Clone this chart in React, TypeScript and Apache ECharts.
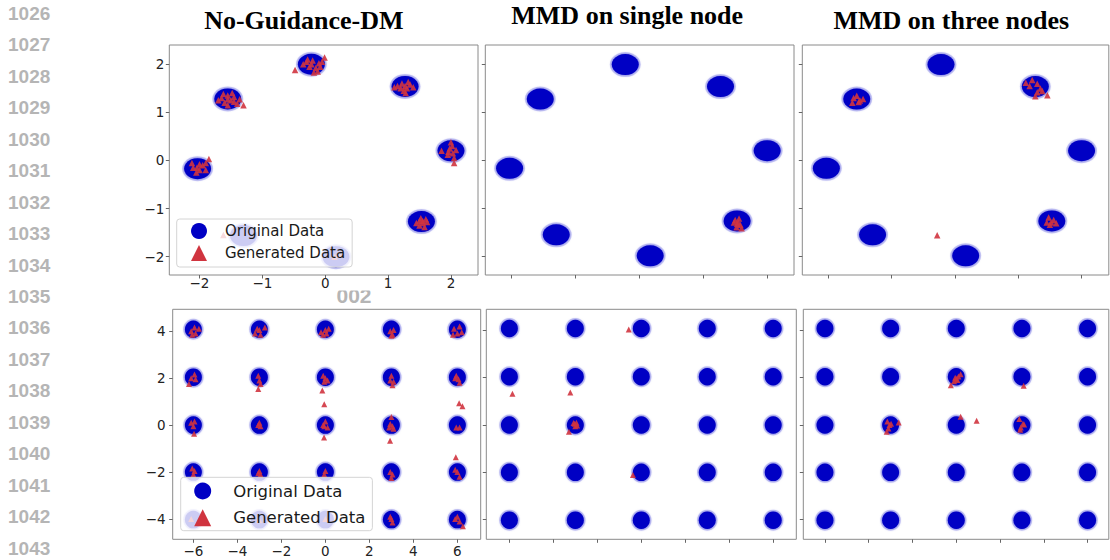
import React, { useEffect, useRef } from "react";
import * as echarts from "echarts";

// ---------- data ----------
const lineNumbers = ["1026","1027","1028","1029","1030","1031","1032","1033","1034","1035","1036","1037","1038","1039","1040","1041","1042","1043"];
const pageMark = "002";
const titles = ["No-Guidance-DM", "MMD on single node", "MMD on three nodes"];
const legendNames = ["Original Data", "Generated Data"];

const ringTicks = [-2, -1, 0, 1, 2];
const gridXTicks = [-6, -4, -2, 0, 2, 4, 6];
const gridYTicks = [-4, -2, 0, 2, 4];

// centres of the 8 gaussian modes (ring)
const ringCenters = [
  [-0.22, 2.0], [1.27, 1.54], [2.0, 0.2], [1.53, -1.27],
  [0.17, -2.0], [-1.3, -1.56], [-2.03, -0.17], [-1.55, 1.28],
];

// centres of the 25 gaussian modes (grid)
const gridCenters = [
  [-6, 4.08], [-3, 4.08], [0, 4.08], [3, 4.08], [6, 4.08],
  [-6, 2.04], [-3, 2.04], [0, 2.04], [3, 2.04], [6, 2.04],
  [-6, 0], [-3, 0], [0, 0], [3, 0], [6, 0],
  [-6, -2.0], [-3, -2.0], [0, -2.0], [3, -2.0], [6, -2.0],
  [-6, -4.02], [-3, -4.02], [0, -4.02], [3, -4.02], [6, -4.02],
];

// generated samples, ring, no guidance
const genRingNoGuidance = [
  [-0.3, 2.05], [-0.2, 2.08], [-0.1, 2.02], [-0.25, 1.95], [-0.15, 1.92], [-0.05, 2.05], [-0.35, 2.0], [-0.12, 1.85], [-0.01, 2.14], [-0.48, 1.88], [-0.18, 1.83], [-0.28, 2.1], [-0.22, 2.0], [-0.08, 1.95],
  [1.15, 1.55], [1.22, 1.6], [1.3, 1.5], [1.35, 1.58], [1.25, 1.45], [1.4, 1.52], [1.28, 1.4], [1.1, 1.52], [1.32, 1.63], [1.27, 1.55], [1.2, 1.5],
  [-1.65, 1.3], [-1.55, 1.35], [-1.5, 1.25], [-1.6, 1.2], [-1.45, 1.32], [-1.4, 1.18], [-1.3, 1.15], [-1.55, 1.15], [-1.7, 1.25], [-1.48, 1.4], [-1.62, 1.38], [-1.36, 1.27], [-1.55, 1.27], [-1.45, 1.22],
  [2.0, 0.38], [1.98, 0.25], [2.03, 0.15], [2.05, 0.05], [1.95, 0.12], [2.08, 0.22], [1.85, 0.2], [2.02, 0.3], [2.05, -0.05], [1.96, 0.18],
  [-2.1, -0.15], [-2.0, -0.2], [-1.95, -0.1], [-2.05, -0.25], [-1.9, -0.05], [-1.85, 0.03], [-1.9, -0.2], [-2.0, -0.08], [-2.12, -0.05], [-2.04, -0.15],
  [1.5, -1.25], [1.55, -1.3], [1.6, -1.22], [1.45, -1.3], [1.58, -1.38], [1.52, -1.2], [1.62, -1.28], [1.5, -1.35], [1.55, -1.26],
  [-1.62, -1.55], [0.15, -2.0], [0.22, -1.95],
];

// generated samples, ring, MMD on single node
const genRingSingle = [
  [1.5, -1.25], [1.55, -1.3], [1.58, -1.35], [1.52, -1.4], [1.6, -1.42], [1.48, -1.3], [1.56, -1.22], [1.53, -1.33],
];

// generated samples, ring, MMD on three nodes
const genRingThree = [
  [-1.6, 1.3], [-1.55, 1.35], [-1.5, 1.25], [-1.45, 1.28], [-1.62, 1.2], [-1.52, 1.22],
  [1.12, 1.62], [1.18, 1.55], [1.22, 1.68], [1.3, 1.6], [1.35, 1.5], [1.3, 1.42], [1.38, 1.45], [1.27, 1.34], [1.46, 1.36],
  [1.48, -1.2], [1.52, -1.3], [1.56, -1.25], [1.5, -1.35], [1.6, -1.32], [1.45, -1.3],
  [-0.28, -1.57],
];

// generated samples, grid, no guidance
const genGridNoGuidance = [
  [-6.1, 4.0], [-5.95, 4.15], [-5.75, 4.1], [-6.05, 3.85], [-5.9, 3.9],
  [-3.2, 3.9], [-3.0, 4.05], [-2.75, 4.15], [-2.95, 3.85], [-3.1, 4.1],
  [-0.2, 3.95], [0.0, 4.05], [0.15, 4.1], [-0.1, 3.85], [0.05, 3.9],
  [2.95, 4.0], [3.05, 3.85], [3.1, 4.05], [3.0, 3.8],
  [5.85, 4.1], [6.1, 4.2], [6.2, 3.95], [6.0, 3.9], [5.8, 3.85],
  [-6.1, 2.0], [-5.95, 2.15], [-6.2, 1.75], [-5.9, 1.95],
  [-3.05, 2.1], [-3.0, 1.9], [-2.95, 1.75], [-3.05, 1.54],
  [-0.1, 2.1], [0.0, 2.0], [0.1, 1.9], [-0.05, 1.85], [-0.14, 1.47], [-0.05, 0.89],
  [3.0, 2.1], [2.95, 1.9], [3.1, 1.85], [3.05, 1.7],
  [5.95, 2.1], [6.05, 1.95], [6.1, 1.8], [5.9, 2.0], [6.08, 0.93], [6.23, 0.8],
  [-6.1, 0.1], [-6.0, -0.05], [-5.95, 0.15], [-5.97, -0.37],
  [-3.0, 0.1], [-2.95, -0.05], [-3.05, 0.0],
  [0.0, 0.15], [-0.05, -0.05], [0.1, -0.1], [-0.1, 0.0], [-0.06, -0.53],
  [3.0, 0.35], [2.95, 0.05], [3.05, -0.05], [3.1, -0.15], [2.9, -0.1], [2.94, -0.66],
  [5.95, -0.1], [6.1, -0.1],
  [-6.05, -1.85], [-5.95, -1.95], [-6.0, -2.1],
  [-3.0, -1.95], [-3.05, -2.05], [-2.95, -2.1],
  [0.0, -1.95], [-0.05, -2.1],
  [2.95, -2.0], [3.05, -2.1], [3.0, -2.25],
  [6.0, -2.0], [6.1, -2.2], [5.9, -1.9], [5.93, -1.37],
  [-6.1, -4.0], [-3.0, -4.05], [0.0, -4.0],
  [3.0, -4.0], [3.05, -4.15], [2.95, -3.9],
  [5.9, -4.0], [6.1, -4.1], [6.25, -4.3], [6.0, -3.9],
];

// generated samples, grid, MMD on single node
const genGridSingle = [
  [-0.57, 4.04], [-5.86, 1.32], [-3.23, 1.37],
  [-3.03, 0.05], [-2.95, 0.1], [-3.0, -0.05], [-3.08, 0.08], [-2.92, -0.02], [-3.29, -0.28],
  [-0.38, -2.11],
];

// generated samples, grid, MMD on three nodes
const genGridThree = [
  [-0.25, 1.68], [-0.1, 1.85], [0.0, 1.95], [0.1, 2.05], [0.2, 2.15], [0.05, 1.9], [-0.05, 2.0],
  [3.08, 1.66],
  [-3.15, 0.15], [-3.05, 0.0], [-3.1, -0.15], [-3.18, -0.28], [-2.98, 0.05], [-2.63, 0.11],
  [0.2, 0.35], [0.93, 0.18],
  [2.88, 0.25], [3.05, 0.05], [2.95, -0.1], [3.1, 0.02], [2.92, -0.2],
];

// ---------- styling / layout ----------
const BLUE = "#0000C4";
const HALO = "rgba(50,50,215,0.22)";
const RED = "#D0343F";
const FRAME = "#8a8a8a";

type Panel = {
  left: number; top: number; width: number; height: number;
  xMin: number; xMax: number; yMin: number; yMax: number;
  xTicks: number[]; yTicks: number[]; labels: boolean;
  centers: number[][]; gen: number[][];
  core: number[]; halo: number[]; tri: number;
  xMargin: number; yMargin: number;
};

const ring = { xTicks: ringTicks, yTicks: ringTicks, centers: ringCenters, core: [27, 21], halo: [31, 25], tri: 6.5 };
const grid = { xTicks: gridXTicks, yTicks: gridYTicks, centers: gridCenters, core: [17, 17.5], halo: [20.5, 21], tri: 6 };

const panels: Panel[] = [
  { ...ring, left: 169.3, top: 45, width: 308.7, height: 230, xMin: -2.48, xMax: 2.43, yMin: -2.38, yMax: 2.4, labels: true, gen: genRingNoGuidance, xMargin: 1, yMargin: 5 },
  { ...ring, left: 485.3, top: 45, width: 308.7, height: 230, xMin: -2.41, xMax: 2.42, yMin: -2.4, yMax: 2.41, labels: false, gen: genRingSingle, xMargin: 1, yMargin: 5 },
  { ...ring, left: 802.3, top: 45, width: 306.5, height: 230, xMin: -2.41, xMax: 2.43, yMin: -2.4, yMax: 2.41, labels: false, gen: genRingThree, xMargin: 1, yMargin: 5 },
  { ...grid, left: 172.7, top: 309.3, width: 308, height: 230, xMin: -6.94, xMax: 7.06, yMin: -4.86, yMax: 4.93, labels: true, gen: genGridNoGuidance, xMargin: 5, yMargin: 7 },
  { ...grid, left: 486.3, top: 309.3, width: 310, height: 230, xMin: -7.05, xMax: 7.05, yMin: -4.83, yMax: 4.89, labels: false, gen: genGridSingle, xMargin: 5, yMargin: 7 },
  { ...grid, left: 803.3, top: 309.3, width: 305.5, height: 230, xMin: -6.99, xMax: 6.97, yMin: -4.83, yMax: 4.89, labels: false, gen: genGridThree, xMargin: 5, yMargin: 7 },
];

const fmt = (v: number) => (v < 0 ? "\u2212" + Math.abs(v) : String(v));

function buildOption() {
  const grids = panels.map((p) => ({
    left: p.left, top: p.top, width: p.width, height: p.height,
    show: true, borderColor: FRAME, borderWidth: 1, backgroundColor: "transparent",
  }));

  const axisCommon = (ticks: number[], labels: boolean, margin: number) => ({
    type: "value" as const,
    axisLine: { show: false, onZero: false },
    splitLine: { show: false },
    axisTick: { show: true, inside: false, length: 3.5, lineStyle: { color: "#666", width: 1 }, customValues: ticks },
    axisLabel: {
      show: labels, customValues: ticks, margin, formatter: fmt,
      fontFamily: "DejaVu Sans", fontSize: 13.5, color: "#222", lineHeight: 14,
    },
  });

  const xAxis = panels.map((p, i) => ({ ...axisCommon(p.xTicks, p.labels, p.xMargin), gridIndex: i, min: p.xMin, max: p.xMax }));
  const yAxis = panels.map((p, i) => ({ ...axisCommon(p.yTicks, p.labels, p.yMargin), gridIndex: i, min: p.yMin, max: p.yMax }));

  const series: any[] = [];
  panels.forEach((p, i) => {
    series.push({
      type: "scatter", name: legendNames[0], xAxisIndex: i, yAxisIndex: i, data: p.centers,
      symbol: "circle", symbolSize: p.core,
      itemStyle: { color: BLUE, opacity: 1, shadowBlur: 3, shadowColor: "rgba(0,0,200,0.6)" },
      z: 3, silent: true,
    });
    series.push({
      type: "scatter", name: legendNames[0], xAxisIndex: i, yAxisIndex: i, data: p.centers,
      symbol: "circle", symbolSize: p.halo, itemStyle: { color: HALO, opacity: 1 }, z: 2, silent: true,
    });
    series.push({
      type: "scatter", name: legendNames[1], xAxisIndex: i, yAxisIndex: i, data: p.gen,
      symbol: "triangle", symbolSize: p.tri, itemStyle: { color: RED, opacity: 0.9 }, z: 4, silent: true,
    });
  });

  const legendData = [
    { name: legendNames[0], icon: "circle", itemStyle: { color: BLUE, shadowBlur: 0 } },
    { name: legendNames[1], icon: "triangle", itemStyle: { color: RED, opacity: 1 } },
  ];

  const legend = [
    {
      left: 176.7, top: 219, orient: "vertical", selectedMode: false, z: 10,
      data: legendData, itemWidth: 16, itemHeight: 16, itemGap: 6,
      padding: [4, 7, 6, 14.3],
      backgroundColor: "rgba(255,255,255,0.8)", borderColor: "#d4d4d4", borderWidth: 1, borderRadius: 3,
      textStyle: { fontFamily: "DejaVu Sans", fontSize: 15, color: "#1a1a1a", lineHeight: 16, padding: [0, 0, 0, 13] },
    },
    {
      left: 180.7, top: 477.3, orient: "vertical", selectedMode: false, z: 10,
      data: legendData, itemWidth: 17, itemHeight: 17, itemGap: 9.7,
      padding: [5.2, 7, 4.5, 13.5],
      backgroundColor: "rgba(255,255,255,0.8)", borderColor: "#d4d4d4", borderWidth: 1, borderRadius: 3,
      textStyle: { fontFamily: "DejaVu Sans", fontSize: 16.5, color: "#1a1a1a", lineHeight: 17, padding: [0, 0, 0, 17] },
    },
  ];

  const graphic: any[] = [];
  lineNumbers.forEach((t, k) => {
    graphic.push({
      type: "text", x: 8, y: 13.4 + k * 31.45,
      style: { text: t, font: "bold 19px 'Liberation Sans'", fill: "#b5b5b5", align: "left", verticalAlign: "middle" },
    });
  });
  graphic.push({
    type: "text", x: 354, y: 295,
    style: { text: pageMark, font: "bold 21px 'Liberation Sans'", fill: "#b5b5b5", align: "center", verticalAlign: "middle" },
  });
  graphic.push({ type: "rect", shape: { x: 333, y: 279, width: 44, height: 11.5 }, style: { fill: "#ffffff" } });

  const titlePos = [[303.8, 20.5], [627.2, 15.2], [951.3, 20.5]];
  titles.forEach((t, k) => {
    graphic.push({
      type: "text", x: titlePos[k][0], y: titlePos[k][1],
      style: { text: t, font: "bold 26px 'Liberation Serif'", fill: "#000", align: "center", verticalAlign: "middle" },
    });
  });

  return {
    animation: false,
    backgroundColor: "#ffffff",
    textStyle: { fontFamily: "DejaVu Sans" },
    grid: grids, xAxis, yAxis, series, legend, graphic,
  };
}

export default function App() {
  const ref = useRef<HTMLDivElement | null>(null);
  useEffect(() => {
    if (!ref.current) return;
    const chart = echarts.init(ref.current, undefined, { renderer: "svg" });
    chart.setOption(buildOption() as any);
    return () => chart.dispose();
  }, []);
  return <div ref={ref} style={{ position: "absolute", left: 0, top: 0, width: 1110, height: 560 }} />;
}
